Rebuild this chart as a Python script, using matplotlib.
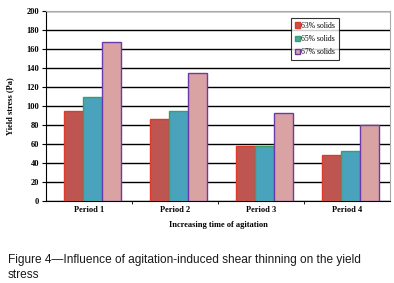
import matplotlib

matplotlib.use("Agg")
import matplotlib.pyplot as plt
import numpy as np

periods = ["Period 1", "Period 2", "Period 3", "Period 4"]
series_labels = ["63% solids", "65% solids", "67% solids"]
solids_63 = [95, 86, 58, 48]
solids_65 = [109, 95, 58, 53]
solids_67 = [167, 135, 93, 80]

face_colors = ["#bf5550", "#4aa3bd", "#d9a3a3"]
edge_colors = ["#e03a2a", "#3aa060", "#6a3aa8"]

fig = plt.figure(figsize=(3.94, 2.83), dpi=100)
ax = fig.add_axes([0.117, 0.29, 0.873, 0.671])

x = np.arange(len(periods)) + 0.54
width = 0.22
for k, vals in enumerate([solids_63, solids_65, solids_67]):
    ax.bar(x + (k - 1) * width, vals, width, color=face_colors[k],
           edgecolor=edge_colors[k], linewidth=1.0, label=series_labels[k], zorder=3)

ax.set_xlim(0, 4)
ax.set_ylim(0, 200)
ax.set_yticks(range(0, 201, 20))
ax.set_xticks(np.arange(len(periods)) + 0.5)
ax.set_xticklabels(periods)
ax.set_xticks([1, 2, 3], minor=True)
ax.tick_params(axis="x", which="major", length=0, pad=4)
ax.tick_params(axis="x", which="minor", length=2)
ax.tick_params(axis="y", length=3, width=0.8, pad=2)
for lab in ax.get_xticklabels() + ax.get_yticklabels():
    lab.set_fontfamily("Liberation Serif")
    lab.set_fontweight("bold")
    lab.set_fontsize(6)
ax.grid(True, axis="y", color="black", linewidth=1.0, zorder=0)

for side in ["top", "right"]:
    ax.spines[side].set_color("#aaaaaa")
    ax.spines[side].set_linewidth(0.8)
ax.spines["left"].set_color("black")
ax.spines["bottom"].set_color("black")

ax.set_ylabel("Yield stress (Pa)", fontfamily="Liberation Serif",
              fontweight="bold", fontsize=6, labelpad=9)
ax.set_xlabel("Increasing time of agitation", fontfamily="Liberation Serif",
              fontweight="bold", fontsize=6, labelpad=5)

leg = ax.legend(loc="upper left", bbox_to_anchor=(0.70, 0.985),
                prop={"family": "Liberation Serif", "size": 5.5},
                frameon=True, fancybox=False, edgecolor="black",
                handlelength=0.7, handleheight=0.7, handletextpad=0.2,
                labelspacing=0.7, borderpad=0.5)
leg.get_frame().set_linewidth(0.8)
leg.get_frame().set_facecolor("white")
leg.set_zorder(5)

# caption, two lines, placed by baseline
fig.text(0.02, 0.071, "Figure 4\u2014Influence of agitation-induced shear thinning on the yield",
         fontfamily="Liberation Sans", fontsize=8.6, color="#1a1a1a", va="baseline")
fig.text(0.02, 0.018, "stress",
         fontfamily="Liberation Sans", fontsize=8.6, color="#1a1a1a", va="baseline")

fig.savefig("out.png", dpi=100)
